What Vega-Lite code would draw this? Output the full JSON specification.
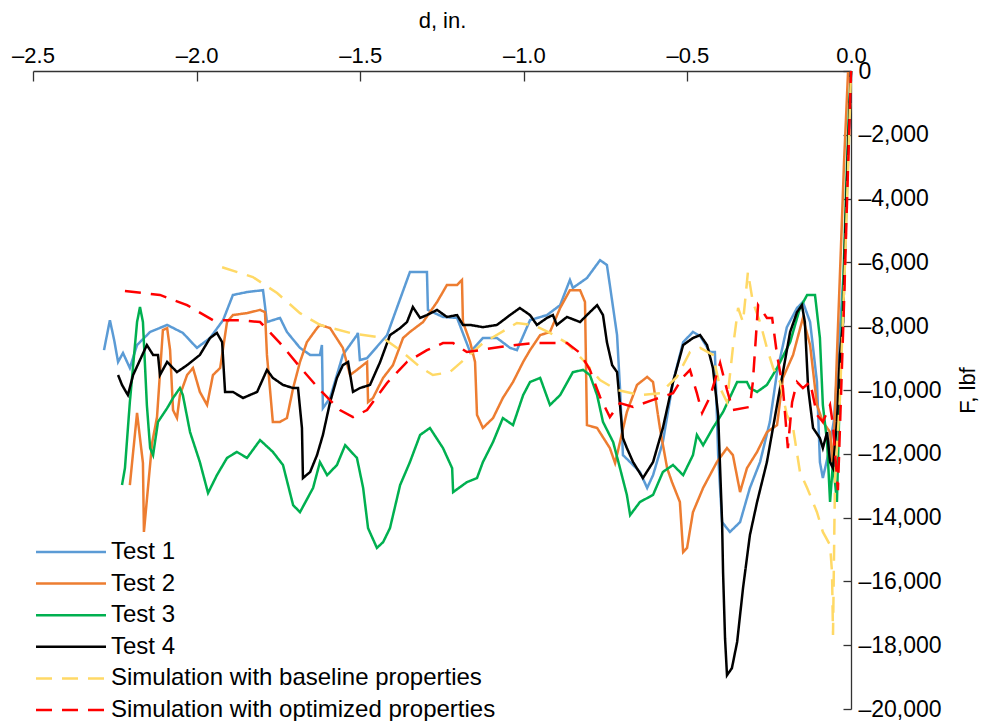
{
  "$schema": "https://vega.github.io/schema/vega-lite/v6.json",
  "width": 818,
  "height": 638,
  "autosize": {"type": "none"},
  "padding": {"left": 33, "top": 71, "right": 134, "bottom": 12},
  "background": "white",
  "config": {
    "view": {"stroke": null},
    "font": "Liberation Sans",
    "axis": {"grid": false, "domainColor": "#333333", "tickColor": "#333333", "labelColor": "#000000", "titleColor": "#000000", "labelFont": "Liberation Sans", "titleFont": "Liberation Sans", "titleFontWeight": "normal", "domainWidth": 1.3, "tickWidth": 1.3}
  },
  "data": {"values": [
    {"s":"Test 1","d":-2.283,"F":-8750},{"s":"Test 1","d":-2.265,"F":-7810},{"s":"Test 1","d":-2.252,"F":-8430},{"s":"Test 1","d":-2.240,"F":-9120},{"s":"Test 1","d":-2.225,"F":-8840},{"s":"Test 1","d":-2.204,"F":-9310},{"s":"Test 1","d":-2.182,"F":-8590},{"s":"Test 1","d":-2.142,"F":-8180},{"s":"Test 1","d":-2.090,"F":-7960},{"s":"Test 1","d":-2.042,"F":-8210},{"s":"Test 1","d":-1.999,"F":-8680},{"s":"Test 1","d":-1.959,"F":-8370},{"s":"Test 1","d":-1.919,"F":-7810},{"s":"Test 1","d":-1.889,"F":-7020},{"s":"Test 1","d":-1.846,"F":-6930},{"s":"Test 1","d":-1.797,"F":-6870},{"s":"Test 1","d":-1.785,"F":-7870},{"s":"Test 1","d":-1.745,"F":-7740},{"s":"Test 1","d":-1.724,"F":-8180},{"s":"Test 1","d":-1.684,"F":-8680},{"s":"Test 1","d":-1.653,"F":-8900},{"s":"Test 1","d":-1.623,"F":-8900},{"s":"Test 1","d":-1.617,"F":-8590},{"s":"Test 1","d":-1.614,"F":-10570},{"s":"Test 1","d":-1.592,"F":-10250},{"s":"Test 1","d":-1.553,"F":-8900},{"s":"Test 1","d":-1.510,"F":-8280},{"s":"Test 1","d":-1.507,"F":-8210},{"s":"Test 1","d":-1.501,"F":-9060},{"s":"Test 1","d":-1.479,"F":-9000},{"s":"Test 1","d":-1.418,"F":-8280},{"s":"Test 1","d":-1.388,"F":-7430},{"s":"Test 1","d":-1.348,"F":-6300},{"s":"Test 1","d":-1.296,"F":-6300},{"s":"Test 1","d":-1.293,"F":-7490},{"s":"Test 1","d":-1.247,"F":-7710},{"s":"Test 1","d":-1.204,"F":-7740},{"s":"Test 1","d":-1.164,"F":-8810},{"s":"Test 1","d":-1.125,"F":-8370},{"s":"Test 1","d":-1.082,"F":-8370},{"s":"Test 1","d":-1.042,"F":-8680},{"s":"Test 1","d":-1.021,"F":-8750},{"s":"Test 1","d":-0.981,"F":-7810},{"s":"Test 1","d":-0.929,"F":-7650},{"s":"Test 1","d":-0.889,"F":-7340},{"s":"Test 1","d":-0.859,"F":-6550},{"s":"Test 1","d":-0.850,"F":-6800},{"s":"Test 1","d":-0.807,"F":-6490},{"s":"Test 1","d":-0.767,"F":-5930},{"s":"Test 1","d":-0.746,"F":-6080},{"s":"Test 1","d":-0.737,"F":-6710},{"s":"Test 1","d":-0.715,"F":-8280},{"s":"Test 1","d":-0.706,"F":-9940},{"s":"Test 1","d":-0.697,"F":-12040},{"s":"Test 1","d":-0.675,"F":-12260},{"s":"Test 1","d":-0.645,"F":-12570},{"s":"Test 1","d":-0.623,"F":-13070},{"s":"Test 1","d":-0.605,"F":-12670},{"s":"Test 1","d":-0.575,"F":-11630},{"s":"Test 1","d":-0.544,"F":-9750},{"s":"Test 1","d":-0.513,"F":-8500},{"s":"Test 1","d":-0.483,"F":-8180},{"s":"Test 1","d":-0.461,"F":-8310},{"s":"Test 1","d":-0.431,"F":-8810},{"s":"Test 1","d":-0.416,"F":-8810},{"s":"Test 1","d":-0.406,"F":-12040},{"s":"Test 1","d":-0.394,"F":-14140},{"s":"Test 1","d":-0.370,"F":-14450},{"s":"Test 1","d":-0.339,"F":-14140},{"s":"Test 1","d":-0.309,"F":-13070},{"s":"Test 1","d":-0.278,"F":-12260},{"s":"Test 1","d":-0.248,"F":-11000},{"s":"Test 1","d":-0.226,"F":-9440},{"s":"Test 1","d":-0.196,"F":-8030},{"s":"Test 1","d":-0.165,"F":-7430},{"s":"Test 1","d":-0.147,"F":-7240},{"s":"Test 1","d":-0.125,"F":-7870},{"s":"Test 1","d":-0.104,"F":-9750},{"s":"Test 1","d":-0.095,"F":-12260},{"s":"Test 1","d":-0.086,"F":-12760},{"s":"Test 1","d":-0.070,"F":-12040},{"s":"Test 1","d":-0.052,"F":-10940},{"s":"Test 1","d":-0.034,"F":-8120},{"s":"Test 1","d":-0.018,"F":-5610},{"s":"Test 1","d":-0.009,"F":-2790},{"s":"Test 1","d":0.0,"F":0},

    {"s":"Test 2","d":-2.204,"F":-12980},{"s":"Test 2","d":-2.182,"F":-10720},{"s":"Test 2","d":-2.164,"F":-12290},{"s":"Test 2","d":-2.161,"F":-14450},{"s":"Test 2","d":-2.136,"F":-11660},{"s":"Test 2","d":-2.121,"F":-10850},{"s":"Test 2","d":-2.103,"F":-8120},{"s":"Test 2","d":-2.090,"F":-8060},{"s":"Test 2","d":-2.081,"F":-8750},{"s":"Test 2","d":-2.072,"F":-10630},{"s":"Test 2","d":-2.060,"F":-10880},{"s":"Test 2","d":-2.051,"F":-10160},{"s":"Test 2","d":-2.029,"F":-9530},{"s":"Test 2","d":-2.011,"F":-9310},{"s":"Test 2","d":-1.990,"F":-10060},{"s":"Test 2","d":-1.968,"F":-10470},{"s":"Test 2","d":-1.950,"F":-9530},{"s":"Test 2","d":-1.928,"F":-9310},{"s":"Test 2","d":-1.907,"F":-7870},{"s":"Test 2","d":-1.889,"F":-7650},{"s":"Test 2","d":-1.846,"F":-7590},{"s":"Test 2","d":-1.806,"F":-7490},{"s":"Test 2","d":-1.791,"F":-7560},{"s":"Test 2","d":-1.785,"F":-8900},{"s":"Test 2","d":-1.776,"F":-9940},{"s":"Test 2","d":-1.767,"F":-11000},{"s":"Test 2","d":-1.745,"F":-11000},{"s":"Test 2","d":-1.724,"F":-10880},{"s":"Test 2","d":-1.705,"F":-9940},{"s":"Test 2","d":-1.684,"F":-9120},{"s":"Test 2","d":-1.663,"F":-8500},{"s":"Test 2","d":-1.632,"F":-8060},{"s":"Test 2","d":-1.623,"F":-7960},{"s":"Test 2","d":-1.592,"F":-8060},{"s":"Test 2","d":-1.553,"F":-8680},{"s":"Test 2","d":-1.531,"F":-9530},{"s":"Test 2","d":-1.510,"F":-9370},{"s":"Test 2","d":-1.479,"F":-9120},{"s":"Test 2","d":-1.476,"F":-10380},{"s":"Test 2","d":-1.461,"F":-10250},{"s":"Test 2","d":-1.430,"F":-9620},{"s":"Test 2","d":-1.400,"F":-9220},{"s":"Test 2","d":-1.369,"F":-8370},{"s":"Test 2","d":-1.348,"F":-8180},{"s":"Test 2","d":-1.308,"F":-7870},{"s":"Test 2","d":-1.265,"F":-7240},{"s":"Test 2","d":-1.235,"F":-6710},{"s":"Test 2","d":-1.204,"F":-6710},{"s":"Test 2","d":-1.189,"F":-6550},{"s":"Test 2","d":-1.186,"F":-7870},{"s":"Test 2","d":-1.164,"F":-8500},{"s":"Test 2","d":-1.149,"F":-9120},{"s":"Test 2","d":-1.143,"F":-10780},{"s":"Test 2","d":-1.125,"F":-11190},{"s":"Test 2","d":-1.094,"F":-10880},{"s":"Test 2","d":-1.064,"F":-10250},{"s":"Test 2","d":-1.033,"F":-9750},{"s":"Test 2","d":-1.002,"F":-9120},{"s":"Test 2","d":-0.981,"F":-8750},{"s":"Test 2","d":-0.950,"F":-8280},{"s":"Test 2","d":-0.920,"F":-8180},{"s":"Test 2","d":-0.889,"F":-7430},{"s":"Test 2","d":-0.859,"F":-6870},{"s":"Test 2","d":-0.828,"F":-6870},{"s":"Test 2","d":-0.813,"F":-7240},{"s":"Test 2","d":-0.807,"F":-11100},{"s":"Test 2","d":-0.776,"F":-11190},{"s":"Test 2","d":-0.737,"F":-11820},{"s":"Test 2","d":-0.721,"F":-12290},{"s":"Test 2","d":-0.706,"F":-11630},{"s":"Test 2","d":-0.685,"F":-10690},{"s":"Test 2","d":-0.654,"F":-9840},{"s":"Test 2","d":-0.623,"F":-9590},{"s":"Test 2","d":-0.605,"F":-9750},{"s":"Test 2","d":-0.584,"F":-11190},{"s":"Test 2","d":-0.562,"F":-12450},{"s":"Test 2","d":-0.547,"F":-12890},{"s":"Test 2","d":-0.523,"F":-13510},{"s":"Test 2","d":-0.513,"F":-15080},{"s":"Test 2","d":-0.501,"F":-14950},{"s":"Test 2","d":-0.483,"F":-13830},{"s":"Test 2","d":-0.452,"F":-13070},{"s":"Test 2","d":-0.410,"F":-12260},{"s":"Test 2","d":-0.379,"F":-11820},{"s":"Test 2","d":-0.361,"F":-12040},{"s":"Test 2","d":-0.339,"F":-13200},{"s":"Test 2","d":-0.318,"F":-12450},{"s":"Test 2","d":-0.287,"F":-11940},{"s":"Test 2","d":-0.257,"F":-11320},{"s":"Test 2","d":-0.226,"F":-11100},{"s":"Test 2","d":-0.208,"F":-9620},{"s":"Test 2","d":-0.177,"F":-8900},{"s":"Test 2","d":-0.147,"F":-7740},{"s":"Test 2","d":-0.125,"F":-8590},{"s":"Test 2","d":-0.104,"F":-10470},{"s":"Test 2","d":-0.086,"F":-11000},{"s":"Test 2","d":-0.064,"F":-11320},{"s":"Test 2","d":-0.055,"F":-12450},{"s":"Test 2","d":-0.043,"F":-8900},{"s":"Test 2","d":-0.031,"F":-5610},{"s":"Test 2","d":-0.021,"F":-2790},{"s":"Test 2","d":-0.009,"F":-30},

    {"s":"Test 3","d":-2.228,"F":-12980},{"s":"Test 3","d":-2.219,"F":-12450},{"s":"Test 3","d":-2.204,"F":-10380},{"s":"Test 3","d":-2.182,"F":-7870},{"s":"Test 3","d":-2.173,"F":-7400},{"s":"Test 3","d":-2.164,"F":-7870},{"s":"Test 3","d":-2.152,"F":-10470},{"s":"Test 3","d":-2.142,"F":-11820},{"s":"Test 3","d":-2.133,"F":-12040},{"s":"Test 3","d":-2.118,"F":-11000},{"s":"Test 3","d":-2.090,"F":-10570},{"s":"Test 3","d":-2.072,"F":-10250},{"s":"Test 3","d":-2.051,"F":-9940},{"s":"Test 3","d":-2.042,"F":-10160},{"s":"Test 3","d":-2.020,"F":-11320},{"s":"Test 3","d":-1.990,"F":-12260},{"s":"Test 3","d":-1.965,"F":-13230},{"s":"Test 3","d":-1.938,"F":-12670},{"s":"Test 3","d":-1.907,"F":-12130},{"s":"Test 3","d":-1.877,"F":-11940},{"s":"Test 3","d":-1.846,"F":-12130},{"s":"Test 3","d":-1.806,"F":-11570},{"s":"Test 3","d":-1.767,"F":-11940},{"s":"Test 3","d":-1.736,"F":-12350},{"s":"Test 3","d":-1.705,"F":-13610},{"s":"Test 3","d":-1.684,"F":-13830},{"s":"Test 3","d":-1.644,"F":-13070},{"s":"Test 3","d":-1.623,"F":-12260},{"s":"Test 3","d":-1.601,"F":-12670},{"s":"Test 3","d":-1.571,"F":-12350},{"s":"Test 3","d":-1.546,"F":-11730},{"s":"Test 3","d":-1.510,"F":-12130},{"s":"Test 3","d":-1.491,"F":-13070},{"s":"Test 3","d":-1.476,"F":-14330},{"s":"Test 3","d":-1.449,"F":-14950},{"s":"Test 3","d":-1.430,"F":-14770},{"s":"Test 3","d":-1.409,"F":-14330},{"s":"Test 3","d":-1.378,"F":-12980},{"s":"Test 3","d":-1.348,"F":-12260},{"s":"Test 3","d":-1.317,"F":-11410},{"s":"Test 3","d":-1.287,"F":-11190},{"s":"Test 3","d":-1.247,"F":-11820},{"s":"Test 3","d":-1.219,"F":-12450},{"s":"Test 3","d":-1.216,"F":-13200},{"s":"Test 3","d":-1.174,"F":-12890},{"s":"Test 3","d":-1.143,"F":-12760},{"s":"Test 3","d":-1.125,"F":-12260},{"s":"Test 3","d":-1.094,"F":-11630},{"s":"Test 3","d":-1.064,"F":-10880},{"s":"Test 3","d":-1.033,"F":-11100},{"s":"Test 3","d":-1.002,"F":-10160},{"s":"Test 3","d":-0.981,"F":-9750},{"s":"Test 3","d":-0.950,"F":-9620},{"s":"Test 3","d":-0.920,"F":-10470},{"s":"Test 3","d":-0.889,"F":-10160},{"s":"Test 3","d":-0.850,"F":-9440},{"s":"Test 3","d":-0.819,"F":-9370},{"s":"Test 3","d":-0.798,"F":-9530},{"s":"Test 3","d":-0.776,"F":-10160},{"s":"Test 3","d":-0.758,"F":-11000},{"s":"Test 3","d":-0.727,"F":-11630},{"s":"Test 3","d":-0.706,"F":-12450},{"s":"Test 3","d":-0.685,"F":-13290},{"s":"Test 3","d":-0.675,"F":-13920},{"s":"Test 3","d":-0.645,"F":-13510},{"s":"Test 3","d":-0.605,"F":-13290},{"s":"Test 3","d":-0.575,"F":-12570},{"s":"Test 3","d":-0.544,"F":-12350},{"s":"Test 3","d":-0.513,"F":-12670},{"s":"Test 3","d":-0.483,"F":-12040},{"s":"Test 3","d":-0.471,"F":-11410},{"s":"Test 3","d":-0.452,"F":-11730},{"s":"Test 3","d":-0.422,"F":-11190},{"s":"Test 3","d":-0.391,"F":-10690},{"s":"Test 3","d":-0.348,"F":-9750},{"s":"Test 3","d":-0.318,"F":-9750},{"s":"Test 3","d":-0.309,"F":-9940},{"s":"Test 3","d":-0.287,"F":-10060},{"s":"Test 3","d":-0.257,"F":-9840},{"s":"Test 3","d":-0.226,"F":-9310},{"s":"Test 3","d":-0.186,"F":-8500},{"s":"Test 3","d":-0.156,"F":-7430},{"s":"Test 3","d":-0.134,"F":-7020},{"s":"Test 3","d":-0.110,"F":-7020},{"s":"Test 3","d":-0.095,"F":-8370},{"s":"Test 3","d":-0.086,"F":-10470},{"s":"Test 3","d":-0.073,"F":-11630},{"s":"Test 3","d":-0.064,"F":-13510},{"s":"Test 3","d":-0.055,"F":-12260},{"s":"Test 3","d":-0.043,"F":-13510},{"s":"Test 3","d":-0.034,"F":-9940},{"s":"Test 3","d":-0.024,"F":-6800},{"s":"Test 3","d":-0.015,"F":-3730},{"s":"Test 3","d":-0.006,"F":-1220},{"s":"Test 3","d":0.0,"F":0},

    {"s":"Test 4","d":-2.240,"F":-9530},{"s":"Test 4","d":-2.228,"F":-9840},{"s":"Test 4","d":-2.210,"F":-10160},{"s":"Test 4","d":-2.194,"F":-9530},{"s":"Test 4","d":-2.173,"F":-9060},{"s":"Test 4","d":-2.152,"F":-8590},{"s":"Test 4","d":-2.133,"F":-8900},{"s":"Test 4","d":-2.118,"F":-8900},{"s":"Test 4","d":-2.112,"F":-9530},{"s":"Test 4","d":-2.090,"F":-9120},{"s":"Test 4","d":-2.060,"F":-9440},{"s":"Test 4","d":-2.029,"F":-9220},{"s":"Test 4","d":-1.990,"F":-8900},{"s":"Test 4","d":-1.959,"F":-8370},{"s":"Test 4","d":-1.938,"F":-8210},{"s":"Test 4","d":-1.922,"F":-8500},{"s":"Test 4","d":-1.913,"F":-10060},{"s":"Test 4","d":-1.889,"F":-10060},{"s":"Test 4","d":-1.858,"F":-10250},{"s":"Test 4","d":-1.815,"F":-10060},{"s":"Test 4","d":-1.785,"F":-9370},{"s":"Test 4","d":-1.767,"F":-9620},{"s":"Test 4","d":-1.736,"F":-9840},{"s":"Test 4","d":-1.705,"F":-9940},{"s":"Test 4","d":-1.690,"F":-9940},{"s":"Test 4","d":-1.678,"F":-11190},{"s":"Test 4","d":-1.675,"F":-12760},{"s":"Test 4","d":-1.653,"F":-12570},{"s":"Test 4","d":-1.632,"F":-12040},{"s":"Test 4","d":-1.614,"F":-11410},{"s":"Test 4","d":-1.592,"F":-10380},{"s":"Test 4","d":-1.571,"F":-9620},{"s":"Test 4","d":-1.553,"F":-9220},{"s":"Test 4","d":-1.537,"F":-9120},{"s":"Test 4","d":-1.522,"F":-10060},{"s":"Test 4","d":-1.501,"F":-9940},{"s":"Test 4","d":-1.470,"F":-9840},{"s":"Test 4","d":-1.439,"F":-9120},{"s":"Test 4","d":-1.409,"F":-8280},{"s":"Test 4","d":-1.378,"F":-8060},{"s":"Test 4","d":-1.357,"F":-7870},{"s":"Test 4","d":-1.339,"F":-7400},{"s":"Test 4","d":-1.317,"F":-7740},{"s":"Test 4","d":-1.296,"F":-7650},{"s":"Test 4","d":-1.265,"F":-7490},{"s":"Test 4","d":-1.235,"F":-7710},{"s":"Test 4","d":-1.204,"F":-7650},{"s":"Test 4","d":-1.186,"F":-7960},{"s":"Test 4","d":-1.164,"F":-7960},{"s":"Test 4","d":-1.125,"F":-8030},{"s":"Test 4","d":-1.082,"F":-7960},{"s":"Test 4","d":-1.042,"F":-7650},{"s":"Test 4","d":-1.012,"F":-7430},{"s":"Test 4","d":-0.981,"F":-7650},{"s":"Test 4","d":-0.960,"F":-7960},{"s":"Test 4","d":-0.929,"F":-7740},{"s":"Test 4","d":-0.911,"F":-7650},{"s":"Test 4","d":-0.899,"F":-7960},{"s":"Test 4","d":-0.868,"F":-7710},{"s":"Test 4","d":-0.828,"F":-7870},{"s":"Test 4","d":-0.807,"F":-7650},{"s":"Test 4","d":-0.776,"F":-7340},{"s":"Test 4","d":-0.758,"F":-7650},{"s":"Test 4","d":-0.746,"F":-8500},{"s":"Test 4","d":-0.730,"F":-9220},{"s":"Test 4","d":-0.715,"F":-9440},{"s":"Test 4","d":-0.706,"F":-10470},{"s":"Test 4","d":-0.697,"F":-11510},{"s":"Test 4","d":-0.685,"F":-11820},{"s":"Test 4","d":-0.666,"F":-12260},{"s":"Test 4","d":-0.636,"F":-12760},{"s":"Test 4","d":-0.605,"F":-12260},{"s":"Test 4","d":-0.575,"F":-11190},{"s":"Test 4","d":-0.544,"F":-9750},{"s":"Test 4","d":-0.513,"F":-8590},{"s":"Test 4","d":-0.483,"F":-8370},{"s":"Test 4","d":-0.461,"F":-8280},{"s":"Test 4","d":-0.440,"F":-8590},{"s":"Test 4","d":-0.422,"F":-9310},{"s":"Test 4","d":-0.406,"F":-10780},{"s":"Test 4","d":-0.394,"F":-14140},{"s":"Test 4","d":-0.391,"F":-15710},{"s":"Test 4","d":-0.385,"F":-17780},{"s":"Test 4","d":-0.379,"F":-18940},{"s":"Test 4","d":-0.364,"F":-18720},{"s":"Test 4","d":-0.348,"F":-17900},{"s":"Test 4","d":-0.330,"F":-16210},{"s":"Test 4","d":-0.309,"F":-14550},{"s":"Test 4","d":-0.287,"F":-13510},{"s":"Test 4","d":-0.257,"F":-12260},{"s":"Test 4","d":-0.226,"F":-10470},{"s":"Test 4","d":-0.208,"F":-9440},{"s":"Test 4","d":-0.186,"F":-8180},{"s":"Test 4","d":-0.165,"F":-7560},{"s":"Test 4","d":-0.150,"F":-7340},{"s":"Test 4","d":-0.141,"F":-7870},{"s":"Test 4","d":-0.131,"F":-9940},{"s":"Test 4","d":-0.116,"F":-11190},{"s":"Test 4","d":-0.095,"F":-11510},{"s":"Test 4","d":-0.086,"F":-11820},{"s":"Test 4","d":-0.073,"F":-11320},{"s":"Test 4","d":-0.064,"F":-12260},{"s":"Test 4","d":-0.055,"F":-12450},{"s":"Test 4","d":-0.043,"F":-11000},{"s":"Test 4","d":-0.034,"F":-8900},{"s":"Test 4","d":-0.024,"F":-7870},{"s":"Test 4","d":-0.018,"F":-5300},{"s":"Test 4","d":-0.009,"F":-2480},{"s":"Test 4","d":0.0,"F":0},

    {"s":"Simulation with baseline properties","d":-1.922,"F":-6150},{"s":"Simulation with baseline properties","d":-1.828,"F":-6460},{"s":"Simulation with baseline properties","d":-1.754,"F":-6960},{"s":"Simulation with baseline properties","d":-1.684,"F":-7590},{"s":"Simulation with baseline properties","d":-1.623,"F":-7960},{"s":"Simulation with baseline properties","d":-1.531,"F":-8210},{"s":"Simulation with baseline properties","d":-1.430,"F":-8370},{"s":"Simulation with baseline properties","d":-1.378,"F":-8750},{"s":"Simulation with baseline properties","d":-1.317,"F":-9280},{"s":"Simulation with baseline properties","d":-1.278,"F":-9530},{"s":"Simulation with baseline properties","d":-1.226,"F":-9440},{"s":"Simulation with baseline properties","d":-1.125,"F":-8530},{"s":"Simulation with baseline properties","d":-1.021,"F":-7900},{"s":"Simulation with baseline properties","d":-0.972,"F":-7960},{"s":"Simulation with baseline properties","d":-0.920,"F":-8210},{"s":"Simulation with baseline properties","d":-0.868,"F":-8530},{"s":"Simulation with baseline properties","d":-0.819,"F":-9060},{"s":"Simulation with baseline properties","d":-0.767,"F":-9690},{"s":"Simulation with baseline properties","d":-0.715,"F":-10000},{"s":"Simulation with baseline properties","d":-0.645,"F":-10160},{"s":"Simulation with baseline properties","d":-0.584,"F":-10100},{"s":"Simulation with baseline properties","d":-0.532,"F":-9590},{"s":"Simulation with baseline properties","d":-0.492,"F":-8810},{"s":"Simulation with baseline properties","d":-0.461,"F":-8680},{"s":"Simulation with baseline properties","d":-0.422,"F":-8900},{"s":"Simulation with baseline properties","d":-0.400,"F":-9940},{"s":"Simulation with baseline properties","d":-0.379,"F":-10380},{"s":"Simulation with baseline properties","d":-0.361,"F":-8680},{"s":"Simulation with baseline properties","d":-0.345,"F":-7430},{"s":"Simulation with baseline properties","d":-0.330,"F":-7870},{"s":"Simulation with baseline properties","d":-0.315,"F":-6300},{"s":"Simulation with baseline properties","d":-0.300,"F":-7240},{"s":"Simulation with baseline properties","d":-0.278,"F":-7870},{"s":"Simulation with baseline properties","d":-0.257,"F":-8680},{"s":"Simulation with baseline properties","d":-0.238,"F":-9310},{"s":"Simulation with baseline properties","d":-0.217,"F":-9750},{"s":"Simulation with baseline properties","d":-0.196,"F":-10780},{"s":"Simulation with baseline properties","d":-0.177,"F":-11190},{"s":"Simulation with baseline properties","d":-0.156,"F":-12570},{"s":"Simulation with baseline properties","d":-0.134,"F":-13070},{"s":"Simulation with baseline properties","d":-0.104,"F":-13830},{"s":"Simulation with baseline properties","d":-0.086,"F":-14450},{"s":"Simulation with baseline properties","d":-0.064,"F":-14860},{"s":"Simulation with baseline properties","d":-0.058,"F":-15710},{"s":"Simulation with baseline properties","d":-0.055,"F":-17680},{"s":"Simulation with baseline properties","d":-0.049,"F":-12820},{"s":"Simulation with baseline properties","d":-0.034,"F":-10310},{"s":"Simulation with baseline properties","d":-0.018,"F":-5930},{"s":"Simulation with baseline properties","d":-0.006,"F":-2160},{"s":"Simulation with baseline properties","d":0.0,"F":0},

    {"s":"Simulation with optimized properties","d":-2.219,"F":-6900},{"s":"Simulation with optimized properties","d":-2.112,"F":-7020},{"s":"Simulation with optimized properties","d":-2.029,"F":-7340},{"s":"Simulation with optimized properties","d":-1.950,"F":-7810},{"s":"Simulation with optimized properties","d":-1.867,"F":-7810},{"s":"Simulation with optimized properties","d":-1.806,"F":-7870},{"s":"Simulation with optimized properties","d":-1.745,"F":-8530},{"s":"Simulation with optimized properties","d":-1.684,"F":-9280},{"s":"Simulation with optimized properties","d":-1.623,"F":-10000},{"s":"Simulation with optimized properties","d":-1.562,"F":-10630},{"s":"Simulation with optimized properties","d":-1.522,"F":-10850},{"s":"Simulation with optimized properties","d":-1.479,"F":-10630},{"s":"Simulation with optimized properties","d":-1.418,"F":-9780},{"s":"Simulation with optimized properties","d":-1.357,"F":-9120},{"s":"Simulation with optimized properties","d":-1.296,"F":-8750},{"s":"Simulation with optimized properties","d":-1.247,"F":-8530},{"s":"Simulation with optimized properties","d":-1.216,"F":-8530},{"s":"Simulation with optimized properties","d":-1.174,"F":-8810},{"s":"Simulation with optimized properties","d":-1.134,"F":-8750},{"s":"Simulation with optimized properties","d":-1.073,"F":-8650},{"s":"Simulation with optimized properties","d":-0.972,"F":-8530},{"s":"Simulation with optimized properties","d":-0.868,"F":-8530},{"s":"Simulation with optimized properties","d":-0.828,"F":-8840},{"s":"Simulation with optimized properties","d":-0.798,"F":-9370},{"s":"Simulation with optimized properties","d":-0.767,"F":-10220},{"s":"Simulation with optimized properties","d":-0.737,"F":-10850},{"s":"Simulation with optimized properties","d":-0.706,"F":-10410},{"s":"Simulation with optimized properties","d":-0.666,"F":-10530},{"s":"Simulation with optimized properties","d":-0.605,"F":-10310},{"s":"Simulation with optimized properties","d":-0.544,"F":-10100},{"s":"Simulation with optimized properties","d":-0.513,"F":-9590},{"s":"Simulation with optimized properties","d":-0.492,"F":-9370},{"s":"Simulation with optimized properties","d":-0.471,"F":-10100},{"s":"Simulation with optimized properties","d":-0.455,"F":-10720},{"s":"Simulation with optimized properties","d":-0.431,"F":-10220},{"s":"Simulation with optimized properties","d":-0.400,"F":-9150},{"s":"Simulation with optimized properties","d":-0.379,"F":-10000},{"s":"Simulation with optimized properties","d":-0.361,"F":-10630},{"s":"Simulation with optimized properties","d":-0.309,"F":-10530},{"s":"Simulation with optimized properties","d":-0.300,"F":-9750},{"s":"Simulation with optimized properties","d":-0.284,"F":-7340},{"s":"Simulation with optimized properties","d":-0.257,"F":-7740},{"s":"Simulation with optimized properties","d":-0.241,"F":-7740},{"s":"Simulation with optimized properties","d":-0.226,"F":-8900},{"s":"Simulation with optimized properties","d":-0.208,"F":-9940},{"s":"Simulation with optimized properties","d":-0.193,"F":-11820},{"s":"Simulation with optimized properties","d":-0.180,"F":-10380},{"s":"Simulation with optimized properties","d":-0.165,"F":-9750},{"s":"Simulation with optimized properties","d":-0.147,"F":-9940},{"s":"Simulation with optimized properties","d":-0.125,"F":-9750},{"s":"Simulation with optimized properties","d":-0.104,"F":-10780},{"s":"Simulation with optimized properties","d":-0.086,"F":-11000},{"s":"Simulation with optimized properties","d":-0.064,"F":-10470},{"s":"Simulation with optimized properties","d":-0.055,"F":-11100},{"s":"Simulation with optimized properties","d":-0.040,"F":-13140},{"s":"Simulation with optimized properties","d":-0.031,"F":-10310},{"s":"Simulation with optimized properties","d":-0.021,"F":-7180},{"s":"Simulation with optimized properties","d":-0.012,"F":-4040},{"s":"Simulation with optimized properties","d":0.0,"F":0}
  ]},
  "mark": {"type": "line", "strokeWidth": 2.5, "clip": false},
  "encoding": {
    "x": {
      "field": "d", "type": "quantitative",
      "scale": {"domain": [-2.5, 0], "nice": false, "zero": false},
      "axis": {
        "orient": "top", "values": [-2.5, -2.0, -1.5, -1.0, -0.5, 0.0],
        "labelExpr": "datum.value === 0 ? '0.0' : '–' + format(-datum.value, '.1f')",
        "labelFontSize": 22, "tickSize": -10, "labelPadding": 14,
        "labelFlush": false, "labelOverlap": false,
        "title": "d, in.", "titleFontSize": 22, "titlePadding": 12
      }
    },
    "y": {
      "field": "F", "type": "quantitative",
      "scale": {"domain": [-20000, 0], "nice": false, "zero": false},
      "axis": {
        "orient": "right", "values": [0, -2000, -4000, -6000, -8000, -10000, -12000, -14000, -16000, -18000, -20000],
        "labelExpr": "datum.value === 0 ? '0' : '–' + format(-datum.value, ',')",
        "labelFontSize": 23, "tickSize": -8, "labelPadding": 15,
        "labelFlush": false, "labelOverlap": false,
        "title": "F, lbf", "titleFontSize": 22, "titleAngle": -90, "titleBaseline": "top", "titlePadding": 16
      }
    },
    "color": {
      "field": "s", "type": "nominal",
      "scale": {
        "domain": ["Test 1", "Test 2", "Test 3", "Test 4", "Simulation with baseline properties", "Simulation with optimized properties"],
        "range": ["#5B9BD5", "#ED7D31", "#00B050", "#000000", "#FFD966", "#FF0000"]
      },
      "legend": {
        "title": null, "orient": "none", "legendX": 2, "legendY": 469,
        "symbolType": "M-5,0H5", "symbolSize": 196, "symbolStrokeWidth": 2.5,
        "symbolOffset": 24, "labelOffset": 28,
        "labelFontSize": 24, "labelFont": "Liberation Sans", "labelColor": "#000000",
        "rowPadding": 7.6, "padding": 0, "labelLimit": 500
      }
    },
    "strokeDash": {
      "field": "s", "type": "nominal",
      "scale": {
        "domain": ["Test 1", "Test 2", "Test 3", "Test 4", "Simulation with baseline properties", "Simulation with optimized properties"],
        "range": [[1, 0], [1, 0], [1, 0], [1, 0], [16, 10], [16, 10]]
      },
      "legend": null
    }
  }
}
